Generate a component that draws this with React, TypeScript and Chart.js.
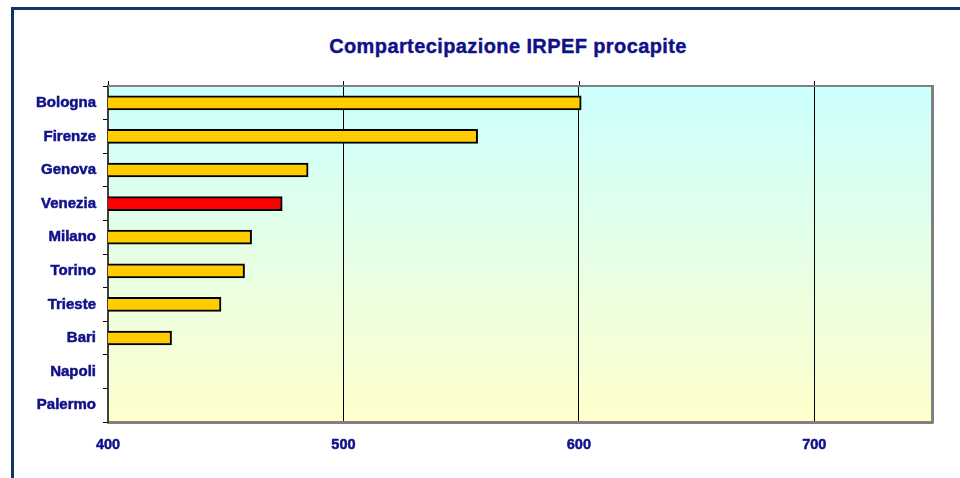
import React, { useEffect, useRef } from "react";
import { Chart, registerables } from "chart.js";

Chart.register(...registerables);

const title = "Compartecipazione IRPEF procapite";
const categories = ["Bologna", "Firenze", "Genova", "Venezia", "Milano", "Torino", "Trieste", "Bari", "Napoli", "Palermo"];
const values: (number | null)[] = [601, 557, 485, 474, 461, 458, 448, 427, null, null];
const highlighted = "Venezia";
const xMin = 400;
const xMax = 750;
const xStep = 100;

const NAVY = "#10108a";
const FONT = "'Liberation Sans', Arial, sans-serif";

const decorPlugin = {
  id: "decor",
  beforeDraw(chart: any) {
    const { ctx, chartArea } = chart;
    const { left, right, top, bottom } = chartArea;
    const g = ctx.createLinearGradient(0, top, 0, bottom);
    g.addColorStop(0, "#ccffff");
    g.addColorStop(1, "#ffffcc");
    ctx.save();
    ctx.fillStyle = g;
    ctx.fillRect(left, top, right - left, bottom - top);
    ctx.restore();
  },
  afterDraw(chart: any) {
    const { ctx, chartArea } = chart;
    const { left, right, top, bottom } = chartArea;
    const xs = chart.scales.x;
    ctx.save();
    ctx.strokeStyle = "#000";
    ctx.lineWidth = 1;
    xs.ticks.forEach((t: any) => {
      const px = Math.round(xs.getPixelForValue(t.value)) + 0.5;
      ctx.beginPath();
      ctx.moveTo(px, top - 5);
      ctx.lineTo(px, top);
      ctx.stroke();
    });
    ctx.strokeStyle = "#808080";
    ctx.lineWidth = 2;
    ctx.beginPath();
    ctx.moveTo(left, top);
    ctx.lineTo(right, top);
    ctx.stroke();
    ctx.lineWidth = 3;
    ctx.beginPath();
    ctx.moveTo(right + 0.5, top - 1);
    ctx.lineTo(right + 0.5, bottom + 1.5);
    ctx.stroke();
    ctx.restore();
  },
};

export default function App() {
  const ref = useRef<HTMLCanvasElement | null>(null);

  useEffect(() => {
    if (!ref.current) return;
    const chart = new Chart(ref.current, {
      type: "bar",
      data: {
        labels: categories,
        datasets: [
          {
            data: values,
            backgroundColor: categories.map((c) => (c === highlighted ? "#ff0000" : "#ffcc00")),
            borderColor: "#000000",
            borderWidth: 2,
            borderSkipped: false,
            barThickness: 14,
          } as any,
        ],
      },
      options: {
        indexAxis: "y",
        responsive: false,
        animation: false,
        layout: { padding: { top: 86, right: 28, left: 0, bottom: 0 } },
        plugins: {
          legend: { display: false },
          title: { display: false },
          tooltip: { enabled: false },
        },
        scales: {
          x: {
            type: "linear",
            min: xMin,
            max: xMax,
            afterBuildTicks: (scale: any) => {
              scale.ticks = scale.ticks.filter((t: any) => (t.value - xMin) % xStep === 0);
            },
            afterFit: (scale: any) => {
              scale.height = 56;
            },
            ticks: {
              stepSize: xStep,
              color: NAVY,
              font: { family: FONT, size: 14.5, weight: "bold" },
              textStrokeColor: NAVY,
              textStrokeWidth: 0.5,
              padding: 14,
              maxRotation: 0,
            },
            grid: { color: "#000000", lineWidth: 1, drawTicks: false },
            border: { color: "#808080", width: 3 },
          },
          y: {
            type: "category",
            afterFit: (scale: any) => {
              scale.width = 108;
            },
            ticks: {
              color: NAVY,
              font: { family: FONT, size: 15, weight: "bold" },
              textStrokeColor: NAVY,
              textStrokeWidth: 0.5,
              padding: 7,
            },
            grid: {
              offset: true,
              drawOnChartArea: false,
              drawTicks: true,
              tickLength: 5,
              color: "#000000",
              lineWidth: 1,
            },
            border: { color: "#404040", width: 2 },
          },
        },
      } as any,
      plugins: [decorPlugin],
    });
    return () => chart.destroy();
  }, []);

  return (
    <div
      style={{
        position: "fixed",
        left: 0,
        top: 0,
        width: 960,
        height: 478,
        overflow: "hidden",
        background: "#ffffff",
      }}
    >
      <div
        style={{
          position: "absolute",
          left: 11,
          top: 7,
          width: 1100,
          height: 700,
          border: "3px solid #0d3566",
          boxSizing: "border-box",
        }}
      />
      <div
        style={{
          position: "absolute",
          left: 0,
          top: 34,
          width: 1016,
          textAlign: "center",
          fontFamily: FONT,
          fontWeight: "bold",
          fontSize: 20,
          lineHeight: "24px",
          letterSpacing: "0.4px",
          color: NAVY,
          whiteSpace: "nowrap",
          WebkitTextStroke: "0.4px " + NAVY,
        } as any}
      >
        {title}
      </div>
      <canvas ref={ref} width={960} height={478} style={{ position: "absolute", left: 0, top: 0 }} />
    </div>
  );
}
